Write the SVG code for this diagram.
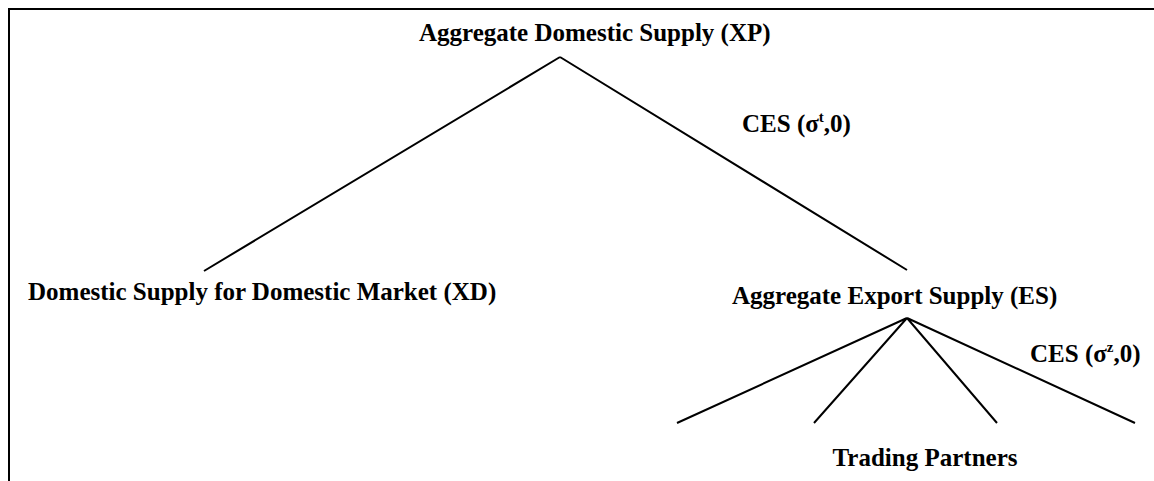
<svg xmlns="http://www.w3.org/2000/svg" width="1154" height="481" viewBox="0 0 1154 481">
<style>
text{font-family:"Liberation Serif","Times New Roman",serif;font-weight:bold;font-size:25px;fill:#000}
.c{stroke:#000;stroke-width:2;fill:none}
.sup{font-size:15px}
</style>
<rect width="1154" height="481" fill="#fff"/>
<g id="frame"><path class="c" d="M9 481V9H1154" stroke-width="3"/></g>
<g id="connectors">
<path class="c" d="M560 57L204 271M560 57L907 270"/>
<path class="c" d="M907 318L677 423M907 318L814 423M907 318L997 423M907 318L1135 423"/>
</g>
<g id="xp"><text x="419" y="41">Aggregate Domestic Supply (XP)</text></g>
<g id="ces1"><text x="742" y="132">CES (σ<tspan class="sup" dy="-10">t</tspan><tspan dy="10">,0)</tspan></text></g>
<g id="xd"><text x="28" y="300">Domestic Supply for Domestic Market (XD)</text></g>
<g id="es"><text x="732" y="304">Aggregate Export Supply (ES)</text></g>
<g id="ces2"><text x="1030" y="362">CES (σ<tspan class="sup" dy="-10">z</tspan><tspan dy="10">,0)</tspan></text></g>
<g id="tp"><text x="925" y="466" text-anchor="middle">Trading Partners</text></g>
</svg>
